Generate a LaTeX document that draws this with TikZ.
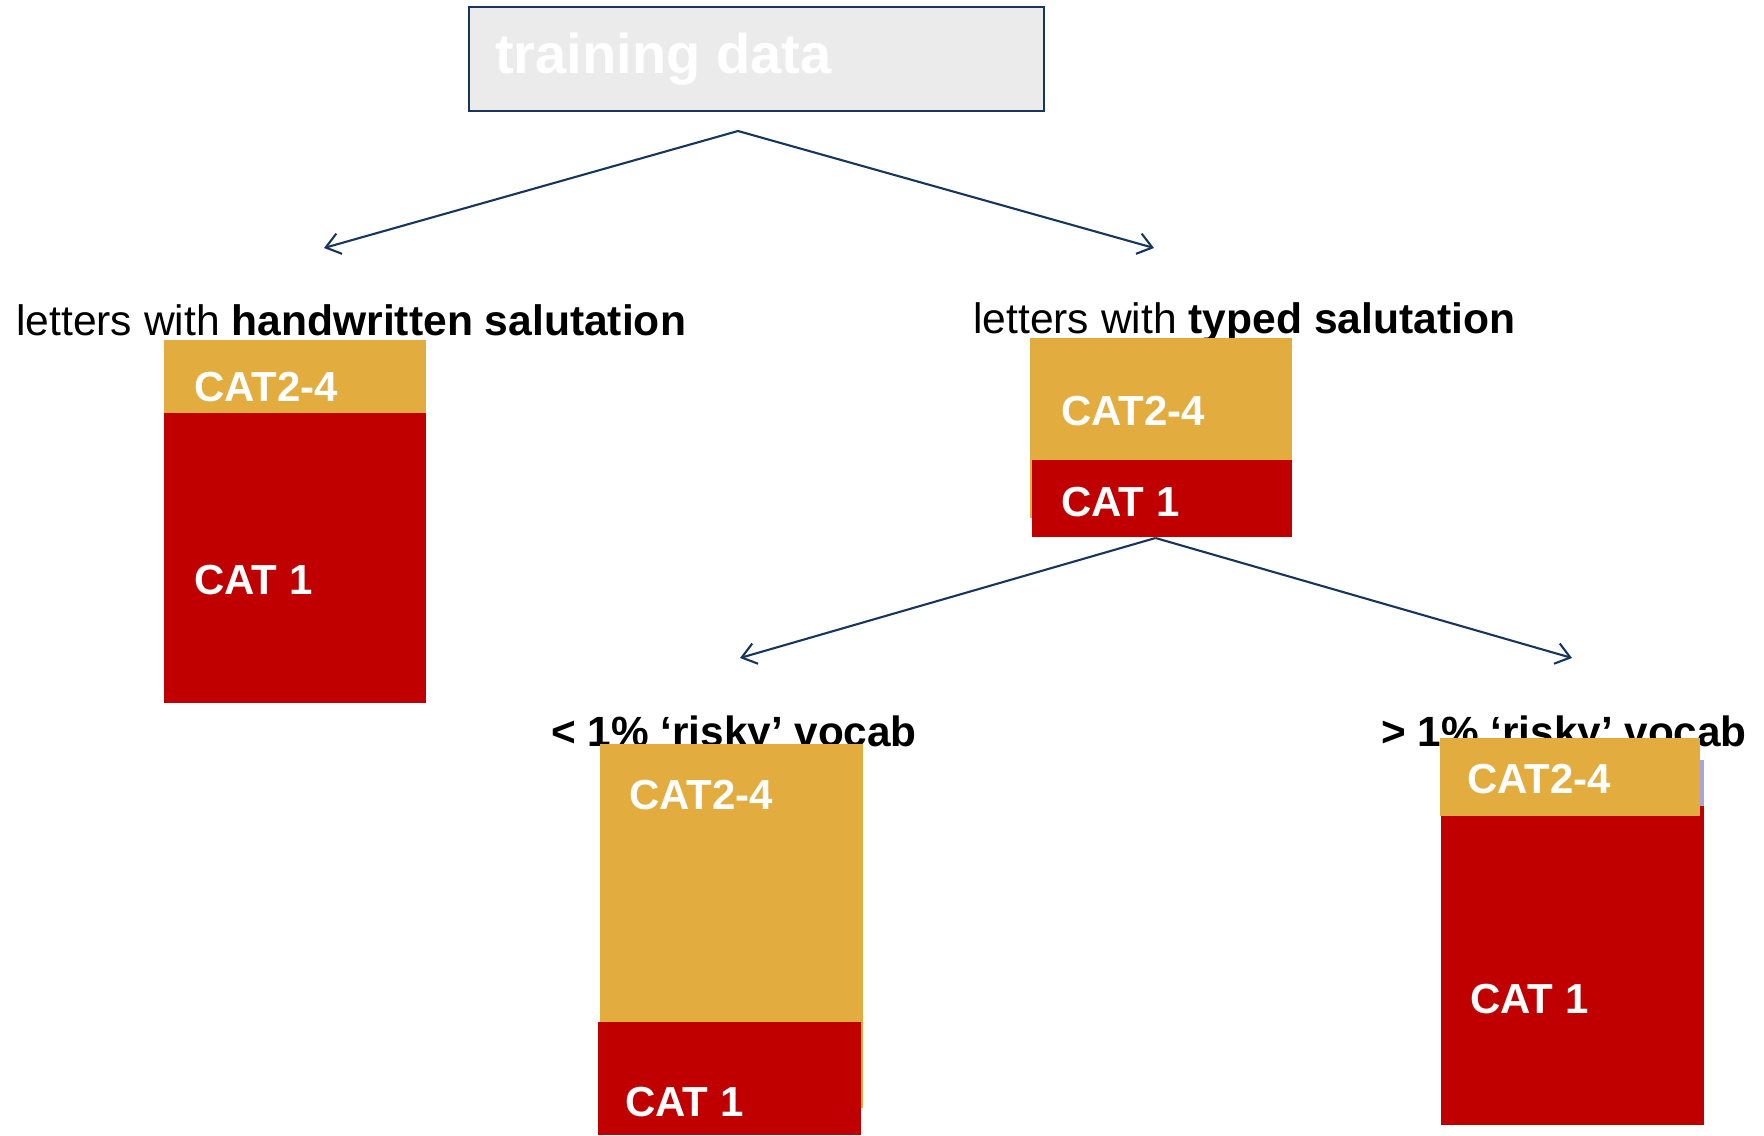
\documentclass[tikz,border=0pt]{standalone}
\usepackage{fontspec}
\setmainfont{Liberation Sans}
\usetikzlibrary{positioning,arrows.meta}
\definecolor{catgold}{RGB}{227,172,62}
\definecolor{catred}{RGB}{192,0,0}
\definecolor{boxgrey}{RGB}{235,235,235}
\definecolor{navy}{RGB}{23,54,93}
\definecolor{lavender}{RGB}{170,165,215}

\begin{document}
\begin{tikzpicture}[x=1pt,y=-1pt,
	headnode/.style={rectangle, draw=navy, line width=2pt, fill=boxgrey, inner sep=0pt, anchor=north west, minimum width=575pt, minimum height=104pt},
	goldbox/.style={rectangle, fill=catgold, inner sep=0pt, anchor=north west},
	redbox/.style={rectangle, fill=catred, inner sep=0pt, anchor=north west},
	catlabel/.style={text=white, font=\fontsize{42}{50}\selectfont\bfseries, inner sep=0pt, anchor=base west},
	splitlabel/.style={font=\fontsize{42.6}{50}\selectfont, inner sep=0pt, anchor=base west},
	split/.style={draw=navy, line width=2.1pt, -{Straight Barb[length=14pt,width=21pt]}},
]
\useasboundingbox (0,0) rectangle (1764,1135);

\node[headnode] (training) at (468,6) {};
\node[anchor=base west, inner sep=0pt, text=white, font=\fontsize{56}{66}\selectfont\bfseries] (traininglabel) at (495,73) {training data};

% split labels (boxes are drawn over them)
\node[splitlabel] (hwlabel) at (16,335) {letters with \textbf{handwritten salutation}};
\node[splitlabel] (tylabel) at (973,333) {letters with \textbf{typed salutation}};
\node[splitlabel, font=\fontsize{42.3}{50}\selectfont\bfseries] (lowlabel) at (551,746) {< 1\% ‘risky’ vocab};
\node[splitlabel, font=\fontsize{42.3}{50}\selectfont\bfseries] (highlabel) at (1381,746) {> 1\% ‘risky’ vocab};

% handwritten
\node[goldbox, minimum width=262pt, minimum height=73pt] (hwgold) at (164,340) {};
\node[redbox, minimum width=262pt, minimum height=290pt, below=-1pt of hwgold] (hwred) {};

% typed
\node[goldbox, minimum width=261.5pt, minimum height=180pt] (tygold) at (1030,337.5) {};
\node[redbox, minimum width=259.5pt, minimum height=77pt] (tyred) at (1032,460) {};

% low risky vocab
\node[goldbox, minimum width=263pt, minimum height=364pt] (lowgold) at (600,744) {};
\node[redbox, minimum width=263pt, minimum height=113pt] (lowred) at (598,1022) {};

% high risky vocab
\fill[lavender] (1698,760) rectangle (1704,806);
\node[redbox, minimum width=263pt, minimum height=319pt] (highred) at (1441,806) {};
\node[goldbox, minimum width=260pt, minimum height=78pt] (highgold) at (1440,738) {};

\node[catlabel] (hwcat24) at (194,401) {CAT2-4};
\node[catlabel] (hwcat1) at (194,594) {CAT 1};
\node[catlabel] (tycat24) at (1061,425) {CAT2-4};
\node[catlabel] (tycat1) at (1061,516) {CAT 1};
\node[catlabel] (lowcat24) at (629,809) {CAT2-4};
\node[catlabel] (lowcat1) at (625,1116) {CAT 1};
\node[catlabel] (highcat24) at (1467,793) {CAT2-4};
\node[catlabel] (highcat1) at (1470,1013) {CAT 1};

\coordinate (fork) at (738,131);
\coordinate (hwtip) at (324,248);
\coordinate (tytip) at (1154,248);
\coordinate (subfork) at (1155.5,538);
\coordinate (lowtip) at (740,658);
\coordinate (hightip) at (1572,658);

\draw[split] (fork) -- (hwtip);
\draw[split] (fork) -- (tytip);
\draw[split] (subfork) -- (lowtip);
\draw[split] (subfork) -- (hightip);

\end{tikzpicture}
\end{document}
